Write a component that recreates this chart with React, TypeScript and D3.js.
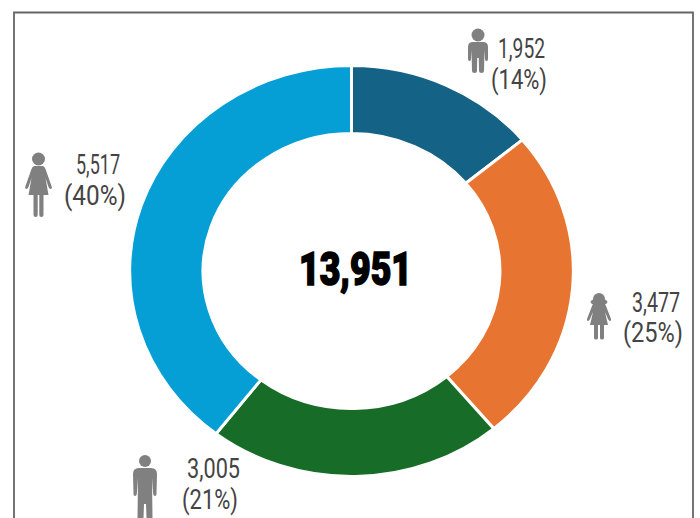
import React from "react";
import * as d3 from "d3";

const labels = ["boys", "girls", "men", "women"];
const values = [1952, 3477, 3005, 5517];
const colors = ["#146386", "#e77430", "#176c27", "#059fd5"];
const shares = ["(14%)", "(25%)", "(21%)", "(40%)"];
const totalLabel = "13,951";

const W = 700, H = 518;
const cx = 351.5, cy = 271;
const outerR = 205.5, innerR = 137.5, xStretch = 1.0795;

const font = "Roboto, 'Liberation Sans', sans-serif";
const numFmt = d3.format(",");

// [x, baseline, width] for value line and share line
const labelBoxes = [
  { v: [498, 58, 47], s: [491, 89, 56] },
  { v: [632, 312, 48], s: [623, 342, 60] },
  { v: [187, 478, 53], s: [182, 509, 56] },
  { v: [76, 174, 44], s: [64, 205, 62] },
];

const man = "M-5,-8 Q-10,-8 -10,-3 L-10,9 Q-10,11 -8.5,11 Q-7,11 -7,9 L-6.5,0 L-6,21 Q-6,23 -3.5,23 Q-1,23 -1,21 L-0.8,8 L0.8,8 L1,21 Q1,23 3.5,23 Q6,23 6,21 L6.5,0 L7,9 Q7,11 8.5,11 Q10,11 10,9 L10,-3 Q10,-8 5,-8 Z";
const woman = "M-4,-18 Q-6,-18 -7,-15 L-13,2 Q-14,5 -12,5 Q-11,5 -10,3 L-7,-6 L-10,11 L-5,11 L-5,31 Q-5,33 -2.7,33 Q-0.8,33 -0.8,31 L-0.8,11 L0.8,11 L0.8,31 Q0.8,33 2.7,33 Q5,33 5,31 L5,11 L10,11 L7,-6 L10,3 Q11,5 12,5 Q14,5 13,2 L7,-15 Q6,-18 4,-18 Z";
const girl = "M-4,-11 Q-6,-11 -7,-8 L-12,5 Q-12.5,7 -11,7 Q-10,7 -9,5 L-6,-2 L-9,11 L-5,11 L-5,24 Q-5,25.5 -3,25.5 Q-1,25.5 -1,24 L-1,11 L1,11 L1,24 Q1,25.5 3,25.5 Q5,25.5 5,24 L5,11 L9,11 L6,-2 L9,5 Q10,7 11,7 Q12.5,7 12,5 L7,-8 Q6,-11 4,-11 Z";
const bigMan = "M-6,-18 Q-12,-18 -12,-12 L-11.5,8 Q-11.5,10 -10,10 Q-8.5,10 -8.2,8 L-7,-8 L-7.5,32 L-1.5,32 L-1,18 L1,18 L1.5,32 L7.5,32 L7,-8 L8.2,8 Q8.5,10 10,10 Q11.5,10 11.5,8 L12,-12 Q12,-18 6,-18 Z";

const icons = [
  { x: 478, y: 50, head: -15, r: 6.5, d: man },
  { x: 599, y: 314, head: -15, r: 6, d: girl, hair: true },
  { x: 145, y: 486, head: -25, r: 6, d: bigMan },
  { x: 38.5, y: 184, head: -25, r: 6.5, d: woman },
];

export default function App() {
  const pie = d3.pie<number>().sort(null)(values);
  const arc = d3.arc<d3.PieArcDatum<number>>().innerRadius(innerR).outerRadius(outerR);
  return (
    <svg width={W} height={H} style={{ position: "absolute", left: 0, top: 0, background: "#fff" }}>
      <path d={`M14,${H} L14,12.5 L693,12.5 L693,${H}`} fill="none" stroke="#666" strokeWidth={1.8} />
      <g transform={`translate(${cx},${cy}) scale(${xStretch},1)`}>
        {pie.map((p, i) => (
          <path key={labels[i]} d={arc(p)!} fill={colors[i]} stroke="#fff" strokeWidth={3} vectorEffect="non-scaling-stroke" />
        ))}
      </g>
      <text x={299} y={285} textLength={113} lengthAdjust="spacingAndGlyphs" fontFamily={font} fontWeight={900} fontSize={47} fill="#000" stroke="#000" strokeWidth={1.6}>
        {totalLabel}
      </text>
      {icons.map((ic, i) => (
        <g key={labels[i]} transform={`translate(${ic.x},${ic.y})`} fill="#808080">
          <path d={ic.d} />
          <circle cx={0} cy={ic.head} r={ic.r} />
          {ic.hair && <ellipse cx={0} cy={ic.head + 3} rx={8.5} ry={3.5} />}
        </g>
      ))}
      {labelBoxes.map((b, i) => (
        <g key={labels[i]} fontFamily={font} fontSize={28} fill="#444">
          <text x={b.v[0]} y={b.v[1]} textLength={b.v[2]} lengthAdjust="spacingAndGlyphs">{numFmt(values[i])}</text>
          <text x={b.s[0]} y={b.s[1]} textLength={b.s[2]} lengthAdjust="spacingAndGlyphs">{shares[i]}</text>
        </g>
      ))}
    </svg>
  );
}
